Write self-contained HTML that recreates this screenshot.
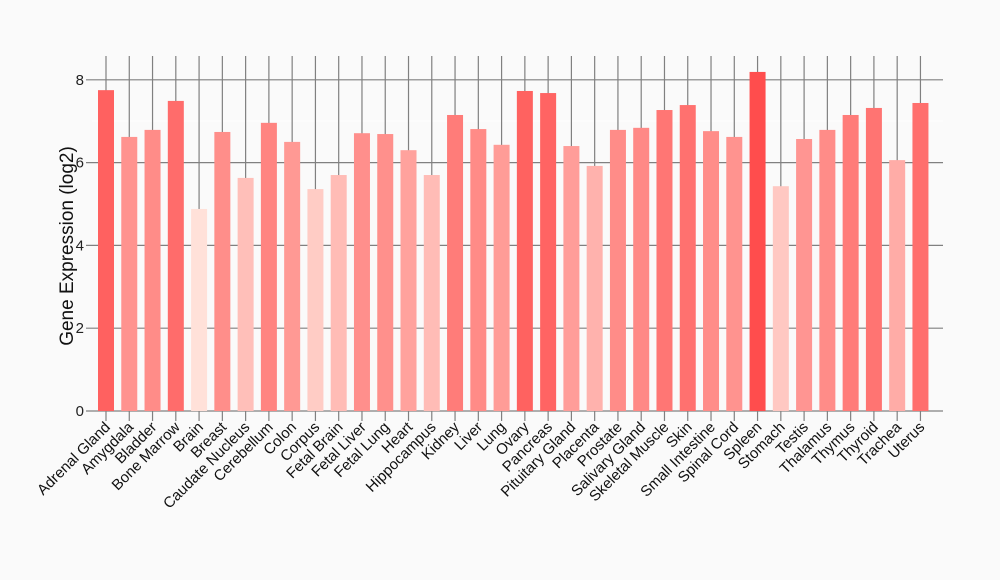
<!DOCTYPE html>
<html><head><meta charset="utf-8"><style>
html,body{margin:0;padding:0;background:#fafafa;}
svg{display:block;font-family:"Liberation Sans",Arial,sans-serif;}
</style></head><body>
<svg id="c" width="1000" height="580" xmlns="http://www.w3.org/2000/svg"></svg>
<script>
const names=["Adrenal Gland","Amygdala","Bladder","Bone Marrow","Brain","Breast","Caudate Nucleus","Cerebellum","Colon","Corpus","Fetal Brain","Fetal Liver","Fetal Lung","Heart","Hippocampus","Kidney","Liver","Lung","Ovary","Pancreas","Pituitary Gland","Placenta","Prostate","Salivary Gland","Skeletal Muscle","Skin","Small Intestine","Spinal Cord","Spleen","Stomach","Testis","Thalamus","Thymus","Thyroid","Trachea","Uterus"];
const vals=[7.75,6.62,6.79,7.49,4.88,6.74,5.63,6.96,6.50,5.36,5.70,6.71,6.69,6.30,5.70,7.15,6.81,6.43,7.73,7.68,6.40,5.92,6.79,6.84,7.27,7.39,6.76,6.62,8.19,5.43,6.57,6.79,7.15,7.32,6.06,7.44];
const y0=411,k=41.4,x0=106,dx=23.27;
let s='';
s+=`<line x1="92" y1="121" x2="943" y2="121" stroke="#fff" stroke-width="1"/>`;
for(let i=0;i<36;i++){const x=x0+i*dx;s+=`<line x1="${x}" y1="56" x2="${x}" y2="421" stroke="#808080" stroke-width="1.2"/>`;}
for(let v=0;v<=8;v+=2){const y=y0-v*k;s+=`<line x1="86" y1="${y}" x2="943" y2="${y}" stroke="#808080" stroke-width="1.2"/><text x="84" y="${y+5}" text-anchor="end" font-size="15" fill="#222">${v}</text>`;}
const mn=4.88,mx=8.19;
for(let i=0;i<36;i++){const x=x0+i*dx,v=vals[i],t=(v-mn)/(mx-mn);
const g=Math.round(225-t*148),b=Math.round(217-t*140);
s+=`<rect x="${x-8}" y="${y0-v*k}" width="16" height="${v*k}" fill="rgb(255,${g},${b})"/>`;
s+=`<text transform="translate(${x+5},${428}) rotate(-45)" text-anchor="end" font-size="15" fill="#111">${names[i]}</text>`;}
s+=`<text transform="translate(73,246) rotate(-90)" text-anchor="middle" font-size="19" fill="#111">Gene Expression (log2)</text>`;
document.getElementById('c').innerHTML=s;
</script>
</body></html>
